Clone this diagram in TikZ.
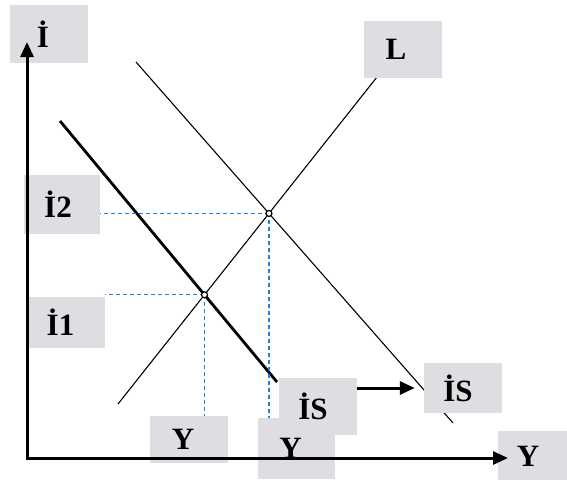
\documentclass[tikz,border=0pt]{standalone}
\usepackage{fontspec}
\setmainfont{Liberation Serif}
\usetikzlibrary{arrows.meta}
\definecolor{boxgray}{RGB}{222,222,226}
\definecolor{dashblue}{RGB}{30,130,220}
\begin{document}
\begin{tikzpicture}[x=1pt,y=-1pt,
  lbl/.style={fill=boxgray, inner sep=0pt, font=\fontsize{31}{31}\selectfont\bfseries},
  axis/.style={line width=3pt, {Triangle[length=15pt,width=13pt]}-{Triangle[length=15pt,width=13pt]}},
  curve/.style={line width=1.1pt},
  thickcurve/.style={line width=2.8pt},
  guide/.style={dashblue, line width=1.3pt, dash pattern=on 4pt off 3pt},
  shiftarrow/.style={line width=3pt, -{Triangle[length=15pt,width=13pt]}},
  eqpt/.style={circle, draw, fill=white, line width=1.2pt, inner sep=0pt, minimum size=6pt}]
\useasboundingbox (0,0) rectangle (567,479);
% curves
\coordinate (O) at (27,458);
\coordinate (ytop) at (27,42);
\coordinate (xend) at (508,458);
\coordinate (La) at (118,404);
\coordinate (Lb) at (377,77);
\coordinate (ISa) at (60,121);
\coordinate (ISb) at (277,382);
\coordinate (ISn1) at (136,62);
\coordinate (ISn2) at (453,423);
\coordinate (E1) at (intersection of La--Lb and ISa--ISb);
\coordinate (E2) at (intersection of La--Lb and ISn1--ISn2);
\draw[curve] (La) -- (Lb);
\draw[thickcurve] (ISa) -- (ISb);
\draw[curve] (ISn1) -- (ISn2);
% labels
\node[lbl, minimum width=78pt, minimum height=58pt] (bI) at (49,34) {İ\kern12pt};
\node[lbl, minimum width=78pt, minimum height=57pt] (bL) at (403,49.5) {L\kern14pt};
\node[lbl, minimum width=76pt, minimum height=59pt] (bI2) at (62,204.5) {İ2\kern8pt};
\node[lbl, minimum width=79pt, minimum height=51pt] (bI1) at (65.5,322) {İ1\kern10pt};
\node[lbl, minimum width=78pt, minimum height=47pt] (bY1) at (189,439.5) {Y\kern12pt};
\node[lbl, minimum width=77pt, minimum height=61pt] (bY2) at (296.5,448.5) {Y\kern12pt};
\node[lbl, minimum width=78pt, minimum height=57pt] (bIS1) at (318,406.5) {İS\kern10pt};
\node[lbl, minimum width=78pt, minimum height=50pt] (bIS2) at (463,388) {İS\kern10pt};
\node[lbl, minimum width=70pt, minimum height=50pt] (bY3) at (533,456) {Y\kern10pt};
% guides
\draw[guide] (E2) -- (bI2.east |- E2);
\draw[guide] (E1) -- (bI1.east |- E1);
\draw[guide] (E1) -- (E1 |- bY1.north);
\draw[guide] (E2) -- (E2 |- bY2.north);
% axes
\draw[axis] (ytop) -- (O) -- (xend);
% shift arrow
\draw[shiftarrow, shorten >=9pt] (bIS1.east |- bIS2.west) -- (bIS2.west);
% equilibrium points
\node[eqpt] (p1) at (E1) {};
\node[eqpt] (p2) at (E2) {};
\end{tikzpicture}
\end{document}
